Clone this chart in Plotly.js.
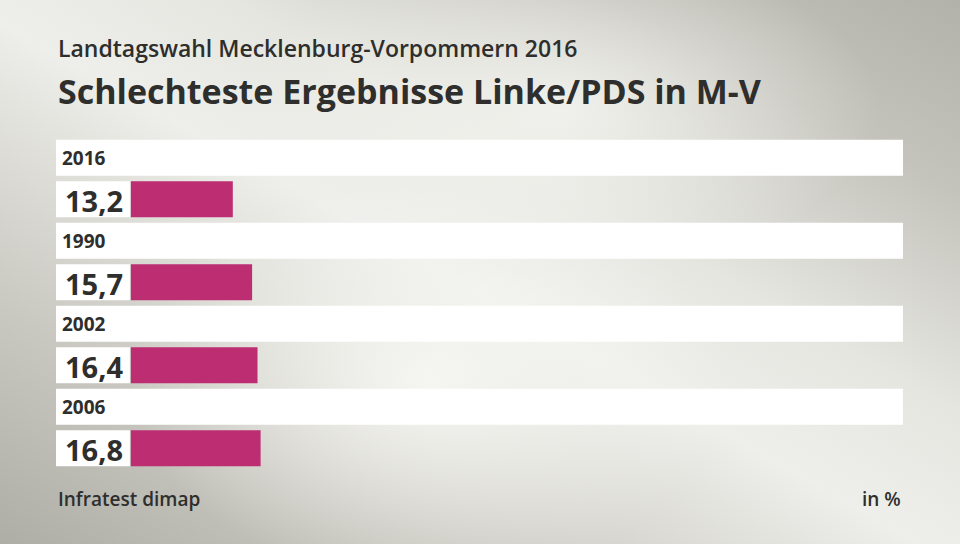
<!DOCTYPE html>
<html>
<head>
<meta charset="utf-8">
<script src="https://cdn.plot.ly/plotly-3.0.1.min.js"></script>
<style>
  html, body { margin: 0; padding: 0; }
  body {
    width: 960px; height: 544px; overflow: hidden;
    background:
      radial-gradient(ellipse 300px 200px at 430px 380px, rgba(248,248,244,0.9), rgba(248,248,244,0)),
      radial-gradient(ellipse 320px 160px at 560px 110px, rgba(246,246,242,0.8), rgba(246,246,242,0)),
      linear-gradient(to top right, #aeada6 0%, #c9c8c1 22%, #eeeeea 48%, #e6e6e1 62%, #c4c3bc 82%, #b2b1aa 100%);
  }
  #chart { width: 960px; height: 544px; }
</style>
</head>
<body>
<div id="chart"></div>
<script>
// years in display order, with the matching result of Linke/PDS
var years = ['2016', '1990', '2002', '2006'];
var values = [13.2, 15.7, 16.4, 16.8];
var valueLabels = ['13,2', '15,7', '16,4', '16,8'];

var barColor = '#bd2d72';
var textColor = '#2e2e2c';
var font = 'Open Sans, sans-serif';
var labelBoxStart = -9.7;   // white box left of the bars holding the value text
var scaleMax = 100;

// each year takes two rows: label row and value row
var labelRows = years.map(function (y, i) { return 2 * i; });
var valueRows = years.map(function (y, i) { return 2 * i + 1; });

var yearBands = {
    type: 'bar',
    orientation: 'h',
    y: labelRows,
    x: years.map(function () { return scaleMax - labelBoxStart; }),
    base: labelBoxStart,
    width: 0.87,
    marker: {color: '#ffffff'},
    hoverinfo: 'skip'
};

var valueBoxes = {
    type: 'bar',
    orientation: 'h',
    y: valueRows,
    x: years.map(function () { return -labelBoxStart - 0.13; }),
    base: labelBoxStart,
    width: 0.87,
    marker: {color: '#ffffff'},
    hoverinfo: 'skip'
};

var resultBars = {
    type: 'bar',
    orientation: 'h',
    y: valueRows,
    x: values,
    base: 0,
    width: 0.87,
    marker: {color: barColor},
    hoverinfo: 'skip'
};

var annotations = [];
years.forEach(function (y, i) {
    annotations.push({
        x: labelBoxStart, y: labelRows[i], xref: 'x', yref: 'y',
        text: y, showarrow: false, xanchor: 'left', xshift: 4,
        font: {family: font, size: 19, weight: 700, color: textColor}
    });
    annotations.push({
        x: 0, y: valueRows[i], xref: 'x', yref: 'y',
        text: valueLabels[i], showarrow: false, xanchor: 'right', xshift: -6, yshift: -1,
        font: {family: font, size: 29, weight: 700, color: textColor}
    });
});

// titles and footer
annotations.push(
    {
        xref: 'paper', yref: 'paper', x: 0, y: 1, yshift: 89, xanchor: 'left', yanchor: 'middle',
        showarrow: false, text: 'Landtagswahl Mecklenburg-Vorpommern 2016',
        font: {family: font, size: 23, weight: 600, color: textColor}
    },
    {
        xref: 'paper', yref: 'paper', x: 0, y: 1, yshift: 46, xanchor: 'left', yanchor: 'middle',
        showarrow: false, text: 'Schlechteste Ergebnisse Linke/PDS in M-V',
        font: {family: font, size: 34, weight: 700, color: textColor}
    },
    {
        xref: 'paper', yref: 'paper', x: 0, y: 0, yshift: -30, xanchor: 'left', yanchor: 'middle',
        showarrow: false, text: 'Infratest dimap',
        font: {family: font, size: 19, weight: 600, color: textColor}
    },
    {
        xref: 'paper', yref: 'paper', x: 1, y: 0, yshift: -30, xanchor: 'right', yanchor: 'middle',
        showarrow: false, text: 'in %',
        font: {family: font, size: 19, weight: 600, color: textColor}
    }
);

var layout = {
    width: 960,
    height: 544,
    margin: {l: 56, r: 57, t: 137, b: 75},
    paper_bgcolor: 'rgba(0,0,0,0)',
    plot_bgcolor: 'rgba(0,0,0,0)',
    showlegend: false,
    barmode: 'overlay',
    xaxis: {range: [labelBoxStart, scaleMax], visible: false, fixedrange: true},
    yaxis: {range: [7.5, -0.5], visible: false, fixedrange: true},
    annotations: annotations
};

Plotly.newPlot('chart', [yearBands, valueBoxes, resultBars], layout, {displayModeBar: false, staticPlot: true});
</script>
</body>
</html>
